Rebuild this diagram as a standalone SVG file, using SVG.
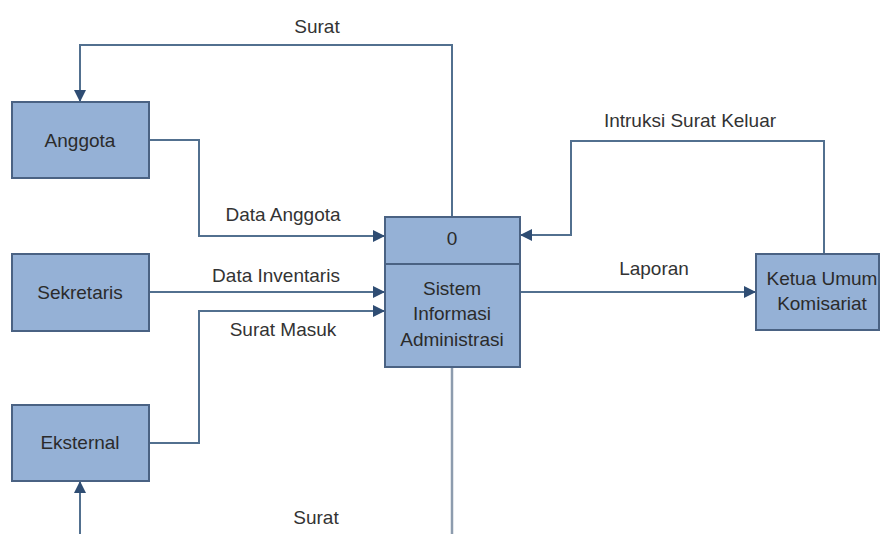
<svg xmlns="http://www.w3.org/2000/svg" width="882" height="534" viewBox="0 0 882 534">
<defs>
<style>
.box{fill:#95b1d6;stroke:#4a6283;stroke-width:2}
.ln{fill:none;stroke:#52708f;stroke-width:2}
.t{font-family:"Liberation Sans",Arial,sans-serif;font-size:19px;fill:#2b2b2b;text-anchor:middle}
.lb{font-family:"Liberation Sans",Arial,sans-serif;font-size:19px;fill:#333;text-anchor:middle}
</style>
<marker id="ah" markerWidth="12" markerHeight="12" refX="11" refY="6" orient="auto" markerUnits="userSpaceOnUse">
<path d="M0,0 L12,6 L0,12 Z" fill="#2f4d73"/>
</marker>
</defs>
<rect width="882" height="534" fill="#ffffff"/>
<g id="connectors">
<path class="ln" d="M452,217 V45 H80 V101" marker-end="url(#ah)"/>
<path class="ln" d="M149,140 H199 V236 H384" marker-end="url(#ah)"/>
<path class="ln" d="M149,292 H384" marker-end="url(#ah)"/>
<path class="ln" d="M149,443 H199 V311 H384" marker-end="url(#ah)"/>
<path class="ln" d="M824,254 V141 H571 V235 H521" marker-end="url(#ah)"/>
<path class="ln" d="M520,292 H755" marker-end="url(#ah)"/>
<path class="ln" d="M452,367 V534" style="stroke:#8d9cae;stroke-width:2.5"/>
<path class="ln" d="M80,534 V482" marker-end="url(#ah)"/>
<text class="lb" x="317" y="33">Surat</text>
<text class="lb" x="283" y="221">Data Anggota</text>
<text class="lb" x="276" y="282">Data Inventaris</text>
<text class="lb" x="283" y="336">Surat Masuk</text>
<text class="lb" x="654" y="275">Laporan</text>
<text class="lb" x="690" y="127">Intruksi Surat Keluar</text>
<text class="lb" x="316" y="524">Surat</text>
</g>
<g id="anggota">
<rect class="box" x="12" y="102" width="137" height="76"/>
<text class="t" x="80" y="147">Anggota</text>
</g>
<g id="sekretaris">
<rect class="box" x="12" y="254" width="137" height="77"/>
<text class="t" x="80" y="299">Sekretaris</text>
</g>
<g id="eksternal">
<rect class="box" x="12" y="405" width="137" height="76"/>
<text class="t" x="80" y="449">Eksternal</text>
</g>
<g id="sistem">
<rect class="box" x="385" y="217" width="135" height="150"/>
<line x1="385" y1="264" x2="520" y2="264" stroke="#4a6283" stroke-width="2"/>
<text class="t" x="452" y="245">0</text>
<text class="t" x="452" y="295">Sistem</text>
<text class="t" x="452" y="320">Informasi</text>
<text class="t" x="452" y="346">Administrasi</text>
</g>
<g id="ketua">
<rect class="box" x="756" y="254" width="123" height="76"/>
<text class="t" x="822" y="285">Ketua Umum</text>
<text class="t" x="822" y="310">Komisariat</text>
</g>
</svg>
